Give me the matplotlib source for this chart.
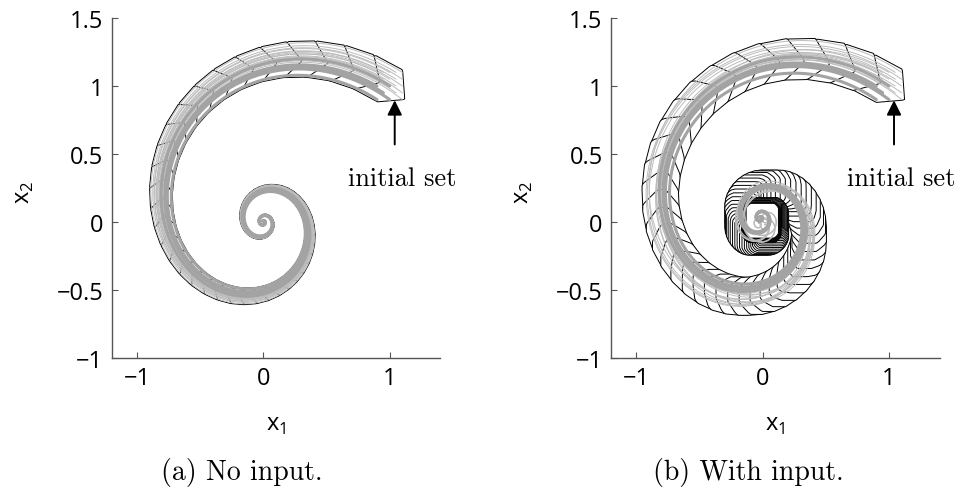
import numpy as np
import matplotlib
matplotlib.use("Agg")
import matplotlib.pyplot as plt
from math import factorial

# ---- linear system  x' = A x + u -------------------------------------------
A = np.array([[-1.0, -4.0],
              [4.0, -1.0]])
x0_lo = np.array([0.9, 0.9])       # initial box
x0_hi = np.array([1.1, 1.1])
u_lo = np.array([-0.1, -0.1])      # input box (right panel)
u_hi = np.array([0.1, 0.1])
step = 0.04                        # reach-set time step
t_end = 5.0
taylor_order = 4
zono_order = 10                    # order used when reducing the input part

# simulated trajectories: start points (x1, x2) and constant inputs
thin_starts = [(1.1, 1.1), (1.05, 1.1), (1.0, 1.1), (0.95, 1.1), (0.9, 1.1),
               (1.1, 1.05), (1.1, 1.0), (1.1, 0.95), (1.1, 0.9),
               (1.05, 1.05), (1.0, 1.05), (1.05, 1.0), (0.95, 1.05), (1.05, 0.95)]
thick_starts = [(0.9, 0.9), (0.95, 0.95), (1.0, 1.0), (0.9, 1.0), (1.0, 0.9)]
thin_inputs = [(0.1, 0.1), (-0.1, 0.1), (0.1, -0.1), (-0.1, -0.1), (0.1, 0.1),
               (-0.1, 0.1), (0.1, -0.1), (-0.1, -0.1), (0.1, 0.1), (-0.1, 0.1),
               (0.1, -0.1), (-0.1, -0.1), (0.1, 0.1), (-0.1, 0.1)]
thick_inputs = [(0.1, 0.1), (0.1, 0.1), (0.1, 0.1), (0.1, 0.1), (0.1, 0.1)]

xlim = (-1.2, 1.4)
ylim = (-1.0, 1.5)
xticks = [-1, 0, 1]
yticks = [-1, -0.5, 0, 0.5, 1, 1.5]
ytick_labels = ["\u22121", "\u22120.5", "0", "0.5", "1", "1.5"]
xtick_labels = ["\u22121", "0", "1"]
captions = ["(a) No input.", "(b) With input."]


def expm(M):
    n = np.abs(M).sum(axis=1).max()
    s = max(0, int(np.ceil(np.log2(n + 1e-12))) + 1)
    Ms = M / 2 ** s
    E = np.eye(2)
    term = np.eye(2)
    for k in range(1, 25):
        term = term @ Ms / k
        E = E + term
    for _ in range(s):
        E = E @ E
    return E


def box_zono(lo, hi):
    c = (lo + hi) / 2
    return c, np.diag((hi - lo) / 2)


def reduce_girard(G, order):
    n, m = G.shape
    if m <= order * n:
        return G
    score = np.abs(G).sum(axis=0) - np.abs(G).max(axis=0)
    idx = np.argsort(score)
    n_box = m - (order - 1) * n
    boxed = G[:, idx[:n_box]]
    kept = G[:, idx[n_box:]]
    return np.hstack([kept, np.diag(np.abs(boxed).sum(axis=1))])


def zono_polygon(c, G):
    G = G[:, np.abs(G).sum(axis=0) > 1e-14]
    flip = (G[1] < 0) | ((G[1] == 0) & (G[0] < 0))
    G = G * np.where(flip, -1.0, 1.0)
    G = G[:, np.argsort(np.arctan2(G[1], G[0]))]
    p = c - G.sum(axis=1)
    pts = [p]
    for g in G.T:
        p = p + 2 * g
        pts.append(p)
    for g in G.T:
        p = p - 2 * g
        pts.append(p)
    return np.array(pts)


def reach_sets(with_input):
    r, eta = step, taylor_order
    Phi = expm(A * r)
    nA = np.abs(A).sum(axis=1).max()
    eps = nA * r / (eta + 2)
    phi = (nA * r) ** (eta + 1) / factorial(eta + 1) / (1 - eps)
    # interval matrix F for the time-interval correction
    F_lo = np.zeros((2, 2))
    F_hi = np.zeros((2, 2))
    Ai = np.eye(2)
    for i in range(1, eta + 1):
        Ai = Ai @ A
        if i < 2:
            continue
        coef = (i ** (-i / (i - 1)) - i ** (-1 / (i - 1))) * r ** i / factorial(i)
        F_lo += np.minimum(coef * Ai, 0)
        F_hi += np.maximum(coef * Ai, 0)
    F_lo -= phi
    F_hi += phi
    Fc = (F_lo + F_hi) / 2
    Fr = (F_hi - F_lo) / 2

    c0, G0 = box_zono(x0_lo, x0_hi)
    c1, G1 = Phi @ c0, Phi @ G0
    # convex hull enclosure of X0 and Phi X0
    hc = (c0 + c1) / 2
    HG = np.hstack([(G0 + G1) / 2, ((c0 - c1) / 2)[:, None], (G0 - G1) / 2])
    rad = Fr @ (np.abs(c0) + np.abs(G0).sum(axis=1))
    hc = hc + Fc @ c0
    HG = np.hstack([HG, Fc @ G0, np.diag(rad)])

    if with_input:
        uc, GU = box_zono(u_lo, u_hi)
        T = np.zeros((2, 2))
        Ai = np.eye(2)
        for i in range(eta + 1):
            T += Ai * r ** (i + 1) / factorial(i + 1)
            Ai = Ai @ A
        prad = phi * r * np.ones((2, 2)) @ (np.abs(uc) + np.abs(GU).sum(axis=1))
        pc = T @ uc
        PG = np.hstack([T @ GU, np.diag(prad)])
    else:
        pc = np.zeros(2)
        PG = np.zeros((2, 0))

    n_steps = int(round(t_end / r))
    sets = []
    Sc, SG = pc.copy(), PG.copy()
    Pk_c, Pk_G = pc.copy(), PG.copy()
    for k in range(n_steps):
        sets.append(zono_polygon(hc + Sc, np.hstack([HG, SG])))
        hc, HG = Phi @ hc, Phi @ HG
        Pk_c, Pk_G = Phi @ Pk_c, Phi @ Pk_G
        Sc = Sc + Pk_c
        SG = reduce_girard(np.hstack([SG, Pk_G]), zono_order)
    return sets


def simulate(x0, u, dt=0.004):
    Phi = expm(A * dt)
    Gam = np.linalg.solve(A, Phi - np.eye(2))
    n = int(round(t_end / dt))
    x = np.array(x0, dtype=float)
    u = np.array(u, dtype=float)
    out = [x]
    for _ in range(n):
        x = Phi @ x + Gam @ u
        out.append(x)
    return np.array(out)


plt.rcParams['font.family'] = ['Open Sans', 'DejaVu Sans']
plt.rcParams['mathtext.fontset'] = 'custom'
plt.rcParams['mathtext.rm'] = 'Open Sans'

fig = plt.figure(figsize=(9.6, 4.89), dpi=100)
W, H = 960.0, 489.0
lefts = [111.7, 611.0]
ax_w = 328.5
ax_top, ax_bot = 19.0, 359.0
caption_x = [242, 748]
axis_grey = '#555555'

for p, left in enumerate(lefts):
    ax = fig.add_axes([left / W, 1 - ax_bot / H, ax_w / W, (ax_bot - ax_top) / H])
    with_input = (p == 1)
    # time-interval reachable sets, white-filled so each one hides the
    # overlapping part of its predecessor
    for poly in reach_sets(with_input):
        ax.fill(poly[:, 0], poly[:, 1], facecolor='white', edgecolor='black',
                linewidth=0.7, zorder=2)
    for i, s in enumerate(thin_starts):
        u = thin_inputs[i] if with_input else (0.0, 0.0)
        tr = simulate(s, u)
        ax.plot(tr[:, 0], tr[:, 1], color='#bcbcbc', lw=0.7, zorder=3,
                solid_capstyle='round')
    for i, s in enumerate(thick_starts):
        u = thick_inputs[i] if with_input else (0.0, 0.0)
        tr = simulate(s, u)
        ax.plot(tr[:, 0], tr[:, 1], color='#a3a3a3', lw=2.2, zorder=4,
                solid_capstyle='round')

    ax.annotate('', xy=(1.04, 0.895), xytext=(1.04, 0.57),
                arrowprops=dict(arrowstyle='-|>', color='black', lw=1.4,
                                mutation_scale=22, shrinkA=0, shrinkB=0),
                zorder=6)
    ax.text(1.10, 0.325, 'initial set', family='cmr10', fontsize=19,
            ha='center', va='center')

    ax.set_xlim(*xlim)
    ax.set_ylim(*ylim)
    ax.set_xticks(xticks)
    ax.set_xticklabels(xtick_labels)
    ax.set_yticks(yticks)
    ax.set_yticklabels(ytick_labels)
    for side in ('top', 'right'):
        ax.spines[side].set_visible(False)
    for side in ('left', 'bottom'):
        ax.spines[side].set_color(axis_grey)
        ax.spines[side].set_linewidth(1.0)
    ax.tick_params(direction='in', length=4, width=0.8, color=axis_grey,
                   labelsize=17, pad=6, labelcolor='black')
    ax.text(0.5, -0.195, r'$\mathrm{x}_1$', transform=ax.transAxes,
            fontsize=17, ha='center', va='center')
    ax.text(-88 / ax_w, 0.49, r'$\mathrm{x}_2$', transform=ax.transAxes,
            fontsize=17, ha='center', va='center', rotation=90)
    fig.text(caption_x[p] / W, 1 - 473 / H, captions[p], family='cmr10',
             fontsize=20, ha='center', va='center')

fig.savefig('out.png', dpi=100)
